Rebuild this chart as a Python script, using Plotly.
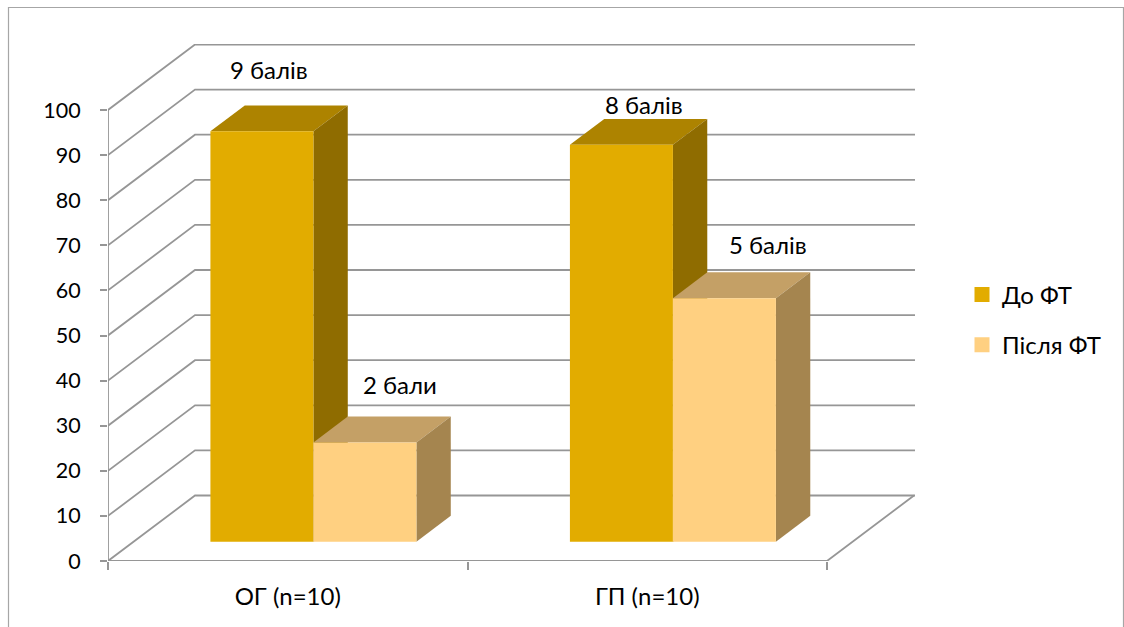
import plotly.graph_objects as go

# Chart data
categories = ["ОГ (n=10)", "ГП (n=10)"]
series_names = ["До ФТ", "Після ФТ"]
before_values = [91, 88]
after_values = [22, 54]
point_labels = [["9 балів", "8 балів"], ["2 бали", "5 балів"]]
y_ticks = list(range(0, 101, 10))

# Pixel scale of the plot area
WIDTH, HEIGHT = 1124, 627
LEFT, RIGHT, TOP, BOTTOM = 108, 915, 44, 561
PX_PER_CAT = 359.5
PX_PER_VAL = 4.51

# Oblique projection of the depth axis, expressed in axis units
DEPTH_X = 87 / PX_PER_CAT
DEPTH_Y = 65.5 / PX_PER_VAL
BAR_WIDTH = 103 / PX_PER_CAT
BAR_FRONT, BAR_BACK = 0.295, 0.69

GRID = "#969696"
FACE = [("#E2AC00", "#AD8300", "#8F6C00"), ("#FFD081", "#C4A066", "#A5854F")]
FONT = "Lato, 'Noto Sans', sans-serif"
TEXT = "#000000"
FONT_SIZE = 24
TICK_FONT_SIZE = 21.5

X_MIN = -0.5
X_MAX = X_MIN + (RIGHT - LEFT) / PX_PER_CAT
X_FLOOR_END = X_MIN + len(categories)


def project(x, v, depth):
    return x + depth * DEPTH_X, v + depth * DEPTH_Y


def polygon(points, color):
    xs, ys = zip(*(project(*p) for p in points))
    return go.Scatter(
        x=list(xs) + [xs[0]], y=list(ys) + [ys[0]], mode="lines", fill="toself",
        fillcolor=color, line=dict(width=0), hoverinfo="skip", showlegend=False,
    )


def rule(points):
    xs, ys = zip(*(project(*p) for p in points))
    return go.Scatter(
        x=xs, y=ys, mode="lines", line=dict(color=GRID, width=1.8),
        hoverinfo="skip", showlegend=False,
    )


fig = go.Figure()

# Wall gridlines, the floor and the front axis lines
for v in y_ticks:
    fig.add_trace(rule([(X_MIN, v, 0), (X_MIN, v, 1), (X_MAX - DEPTH_X, v, 1)]))
fig.add_trace(rule([(X_MIN, 0, 0), (X_FLOOR_END, 0, 0), (X_FLOOR_END, 0, 1)]))
fig.add_trace(rule([(X_MIN, 0, 0), (X_MIN, y_ticks[-1], 0)]))

# Clustered 3D columns, painted from left to right
annotation_shift = [[(7, 62), (23, 40)], [(35, 58), (44, 54)]]
annotations = []
for i in range(len(categories)):
    for s, values in enumerate([before_values, after_values]):
        v = values[i]
        x0 = i - BAR_WIDTH + s * BAR_WIDTH
        x1 = x0 + BAR_WIDTH
        front, top, side = FACE[s]
        fig.add_trace(polygon([(x0, v, BAR_FRONT), (x1, v, BAR_FRONT), (x1, v, BAR_BACK), (x0, v, BAR_BACK)], top))
        fig.add_trace(polygon([(x1, 0, BAR_FRONT), (x1, 0, BAR_BACK), (x1, v, BAR_BACK), (x1, v, BAR_FRONT)], side))
        fig.add_trace(polygon([(x0, 0, BAR_FRONT), (x1, 0, BAR_FRONT), (x1, v, BAR_FRONT), (x0, v, BAR_FRONT)], front))
        cx, cy = project((x0 + x1) / 2, v, BAR_FRONT)
        dx, dy = annotation_shift[s][i]
        annotations.append(dict(
            x=cx, y=cy, xref="x", yref="y", text=point_labels[s][i], showarrow=False,
            xanchor="center", yanchor="middle", xshift=dx, yshift=dy,
            font=dict(family=FONT, size=FONT_SIZE, color=TEXT),
        ))

# Legend swatches
for s, name in enumerate(series_names):
    fig.add_trace(go.Scatter(
        x=[None], y=[None], mode="markers", name=name, legendgroup=name,
        marker=dict(symbol="square", size=15, color=FACE[s][0]),
    ))

fig.update_layout(
    width=WIDTH, height=HEIGHT, autosize=False,
    margin=dict(l=LEFT, r=WIDTH - RIGHT, t=TOP, b=HEIGHT - BOTTOM),
    paper_bgcolor="white", plot_bgcolor="white",
    font=dict(family=FONT, size=FONT_SIZE, color=TEXT),
    annotations=annotations,
    legend=dict(
        x=(962 - LEFT) / (RIGHT - LEFT), xanchor="left",
        y=(561 - 320) / (BOTTOM - TOP),
        yanchor="middle", itemwidth=30, tracegroupgap=16, traceorder="grouped",
        bgcolor="rgba(0,0,0,0)", font=dict(family=FONT, size=FONT_SIZE, color=TEXT),
    ),
    xaxis=dict(
        range=[X_MIN, X_MAX], tickmode="array", tickvals=list(range(len(categories))),
        ticktext=categories, ticks="", showgrid=False, zeroline=False, showline=False,
        ticklabelstandoff=19, tickfont=dict(family=FONT, size=FONT_SIZE, color=TEXT),
        minor=dict(tickmode="array", tickvals=[-0.5, 0.5, 1.5], ticks="outside",
                   ticklen=8, tickwidth=1.5, tickcolor=GRID, showgrid=False),
    ),
    yaxis=dict(
        range=[0, (BOTTOM - TOP) / PX_PER_VAL], tickmode="array", tickvals=y_ticks,
        ticks="outside", ticklen=7, tickwidth=1.5, tickcolor=GRID, showgrid=False,
        zeroline=False, showline=False, ticklabelstandoff=15,
        tickfont=dict(family=FONT, size=TICK_FONT_SIZE, color=TEXT),
    ),
    shapes=[dict(
        type="rect", xref="paper", yref="paper", layer="below",
        x0=(8.5 - LEFT) / (RIGHT - LEFT), x1=(1123.5 - LEFT) / (RIGHT - LEFT),
        y0=-0.3, y1=(561 - 7.5) / (BOTTOM - TOP),
        line=dict(color="#A6A6A6", width=1.2), fillcolor="rgba(0,0,0,0)",
    )],
)

fig.write_html("out.html", config=dict(displayModeBar=False))
